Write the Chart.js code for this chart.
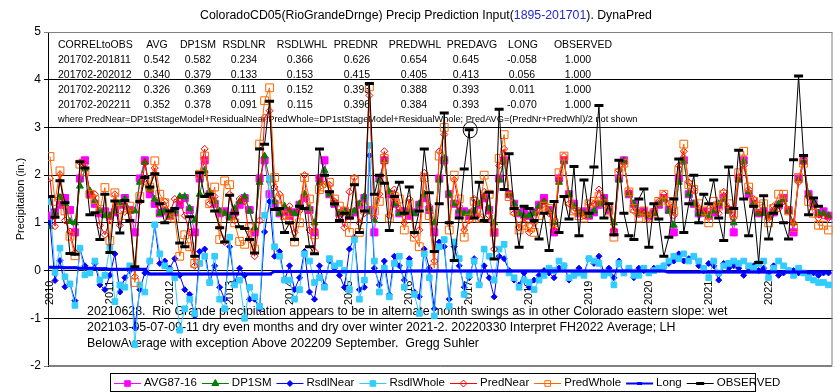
<!DOCTYPE html>
<html>
<head>
<meta charset="utf-8">
<script src="https://cdn.jsdelivr.net/npm/chart.js@4/dist/chart.umd.min.js"></script>
<style>
  html, body { margin: 0; padding: 0; background: #fff; }
  #wrap { width: 840px; height: 392px; }
</style>
</head>
<body>
<div id="wrap"><canvas id="c" width="840" height="392"></canvas></div>
<script>
'use strict';

// ---- data ----
const years = [2010, 2011, 2012, 2013, 2014, 2015, 2016, 2017, 2018, 2019, 2020, 2021, 2022];
const yTicks = [-2, -1, 0, 1, 2, 3, 4, 5];

// AVG87-16 is a monthly normal, same every year
const avgNormals = [1.15, 1.22, 1.38, 1.52, 1.27, 0.80, 1.93, 2.31, 1.60, 1.40, 1.20, 1.24];

const dp1sm = [
  0.92, 1.21, 1.53, 1.40, 1.03, 1.00, 1.77, 2.13, 1.67, 1.45, 1.25, 1.15,
  1.15, 1.25, 1.40, 1.50, 1.25, 1.25, 1.85, 2.27, 1.70, 1.50, 1.20, 1.25,
  1.15, 1.25, 1.55, 1.55, 1.30, 1.05, 1.60, 2.10, 1.65, 1.45, 1.25, 1.20,
  1.10, 1.30, 1.45, 1.55, 1.25, 0.90, 1.85, 2.40, 1.90, 1.45, 1.20, 1.35,
  1.25, 1.20, 1.40, 1.60, 1.30, 1.00, 1.85, 2.10, 1.60, 1.40, 1.20, 1.25,
  1.20, 1.25, 1.40, 1.55, 1.23, 1.05, 1.90, 2.30, 1.65, 1.40, 1.20, 1.20,
  1.25, 1.20, 1.40, 1.60, 1.30, 1.00, 1.90, 2.35, 1.60, 1.40, 1.25, 1.20,
  1.20, 1.25, 1.40, 1.55, 1.30, 1.00, 1.90, 2.30, 1.60, 1.40, 1.20, 1.15,
  1.15, 1.20, 1.35, 1.45, 1.25, 1.00, 1.85, 2.30, 1.60, 1.35, 1.20, 1.20,
  1.15, 1.25, 1.40, 1.50, 1.30, 1.00, 1.90, 2.30, 1.60, 1.40, 1.20, 1.20,
  1.15, 1.20, 1.40, 1.50, 1.25, 0.95, 1.85, 2.30, 1.60, 1.40, 1.20, 1.20,
  1.15, 1.25, 1.40, 1.50, 1.25, 1.00, 1.90, 2.30, 1.65, 1.40, 1.20, 1.20,
  1.15, 1.25, 1.40, 1.50, 1.25, 1.00, 1.90, 2.30, 1.60, 1.40, 1.20, 1.20,
  1.15
];

const rsdlNear = [
  1.00, -0.21, 0.21, -0.34, -0.28, -0.63, 0.45, 0.10, -0.05, 0.15, -0.30, -0.40,
  -0.10, 0.35, -0.45, -0.15, 0.00, -1.20, -0.40, -0.05, 0.20, 0.95, 0.15, 0.20,
  0.05, 0.25, -0.10, -0.40, -0.50, -0.95, 0.40, 0.45, -0.25, 0.10, -0.35, -0.60,
  0.50, -0.25, 0.05, -0.10, -0.60, -0.60, -0.80, 0.81, 1.45, 0.30, 0.40, -0.20,
  0.10, -0.40, -0.15, 0.40, -0.45, -0.60, 0.10, -0.30, 0.20, 0.05, -0.10, -0.35,
  0.45, 0.70, -0.40, -0.35, 2.41, 0.05, -0.30, 0.20, -0.50, 0.30, 0.10, -0.20,
  0.25, -0.45, -0.55, 0.45, 0.05, -0.80, 0.60, 0.50, -0.60, 0.50, 0.10, -0.35,
  -0.15, 0.25, -0.30, 0.10, -0.15, -0.55, 0.30, 0.25, 0.00, -0.20, -0.30, -0.05,
  -0.35, -0.20, -0.10, 0.00, -0.05, -0.15, 0.05, 0.10, -0.20, -0.10, 0.05, -0.05,
  0.25, 0.15, 0.30, -0.05, 0.05, -0.15, 0.20, -0.05, 0.05, -0.15, 0.05, 0.00,
  -0.05, 0.05, 0.05, 0.10, 0.15, 0.20, 0.35, 0.20, 0.25, 0.30, 0.10, 0.00,
  0.15, 0.10, -0.20, 0.15, 0.05, 0.10, 0.05, -0.10, 0.05, 0.10, 0.00, 0.05,
  -0.05, 0.10, -0.10, -0.05, 0.00, 0.00, -0.05, -0.05, -0.05, -0.05, -0.10, -0.05,
  -0.05
];

const rsdlWhole = [
  1.44, -0.04, 0.47, -0.13, -0.28, -0.73, 0.47, -0.09, -0.05, 0.20, -0.20, -0.10,
  0.48, -0.65, -0.30, -0.35, 0.10, -1.55, -0.30, -0.45, 0.20, 0.96, 0.35, 0.10,
  0.00, -0.15, -1.25, -0.80, -0.60, -0.90, 0.15, 0.30, -0.25, 0.30, -0.60, -0.80,
  0.70, -0.30, -0.20, -1.00, -0.35, -0.55, -0.75, 1.16, 1.93, 0.50, 0.30, -0.20,
  -0.20, -0.60, -0.40, 0.35, 0.20, -0.25, -0.15, -0.35, 0.25, 0.10, 0.15, 0.00,
  -0.40, 0.65, -0.60, -0.20, 2.62, 0.20, -0.45, 0.05, -0.55, 0.15, 0.30, -0.35,
  0.15, -0.50, -0.90, 0.35, -0.15, -0.95, 0.50, 0.65, -0.75, 0.60, 0.25, -0.50,
  -0.10, 0.20, -0.30, 0.45, 0.30, -0.20, 0.45, 0.55, -0.05, -0.15, -0.35, -0.20,
  -0.25, -0.40, -0.20, -0.10, 0.05, 0.00, 0.20, 0.10, -0.15, -0.10, -0.05, -0.10,
  0.25, 0.20, 0.15, -0.10, -0.05, -0.30, 0.15, -0.05, 0.05, -0.10, -0.10, 0.05,
  -0.05, 0.00, 0.05, 0.10, 0.20, 0.30, 0.25, 0.35, 0.20, 0.30, 0.20, 0.05,
  -0.15, 0.20, -0.05, 0.10, 0.15, 0.20, 0.15, 0.20, 0.10, 0.05, 0.15, 0.20,
  -0.15, 0.05, 0.20, 0.10, 0.00, -0.10, 0.05, -0.05, -0.15, -0.20, -0.25, -0.25,
  -0.30
];

const predNear = [
  1.93, 0.93, 2.02, 1.05, 0.82, 0.38, 2.27, 2.23, 1.60, 1.60, 0.95, 0.75,
  1.05, 1.60, 0.95, 1.35, 1.25, -0.13, 1.45, 2.25, 1.70, 2.15, 1.35, 1.45,
  1.20, 1.50, 1.45, 1.15, 0.80, 0.10, 2.00, 2.55, 1.40, 1.55, 0.90, 0.60,
  1.60, 1.05, 1.50, 1.45, 0.65, 0.30, 1.05, 3.21, 3.35, 1.75, 1.60, 1.15,
  1.35, 0.80, 1.25, 2.00, 0.85, 0.40, 1.95, 1.80, 1.80, 1.45, 1.10, 0.90,
  1.65, 1.95, 1.00, 1.20, 3.67, 1.10, 1.60, 2.50, 1.15, 1.70, 1.30, 1.00,
  1.50, 0.75, 0.85, 2.05, 1.35, 0.20, 2.50, 2.85, 1.00, 1.90, 1.35, 0.85,
  1.05, 1.50, 1.10, 1.65, 1.15, 0.45, 2.20, 2.55, 1.60, 1.20, 0.90, 1.10,
  0.80, 1.00, 1.25, 1.45, 1.20, 0.85, 1.90, 2.40, 1.40, 1.25, 1.25, 1.15,
  1.40, 1.40, 1.70, 1.45, 1.35, 0.85, 2.10, 2.25, 1.65, 1.25, 1.25, 1.20,
  1.10, 1.25, 1.45, 1.60, 1.40, 1.15, 2.20, 2.50, 1.85, 1.70, 1.30, 1.20,
  1.30, 1.35, 1.20, 1.65, 1.30, 1.10, 1.95, 2.20, 1.70, 1.50, 1.20, 1.25,
  1.10, 1.35, 1.30, 1.45, 1.25, 1.00, 1.85, 2.25, 1.55, 1.35, 1.10, 1.15,
  1.10
];

const predWhole = [
  2.39, 1.45, 2.09, 1.25, 0.72, 0.31, 2.23, 2.07, 1.60, 1.49, 1.28, 1.74,
  0.63, 1.63, 1.28, 1.15, 1.35, -0.25, 1.55, 1.88, 1.75, 2.30, 1.60, 1.42,
  1.15, 1.10, 0.30, 0.75, 0.50, 0.15, 2.02, 2.40, 1.40, 1.75, 0.65, 1.88,
  1.80, 1.00, 0.61, 0.55, 0.90, 0.45, 2.65, 3.56, 3.83, 1.95, 1.50, 1.15,
  1.05, 0.60, 1.00, 1.95, 1.50, 0.75, 1.70, 1.75, 1.85, 1.50, 1.35, 1.25,
  0.80, 1.90, 0.80, 1.35, 3.85, 1.25, 1.45, 2.35, 1.10, 1.55, 1.50, 0.85,
  1.40, 0.70, 0.50, 1.95, 1.15, 0.05, 2.40, 3.00, 0.85, 2.00, 1.50, 0.70,
  1.10, 1.45, 1.10, 2.00, 1.60, 0.80, 2.35, 2.85, 1.55, 1.25, 0.85, 0.95,
  0.90, 0.80, 1.15, 1.35, 1.30, 1.00, 2.05, 2.40, 1.45, 1.25, 1.15, 1.10,
  1.40, 1.45, 1.55, 1.40, 1.25, 0.70, 2.05, 2.25, 1.65, 1.30, 1.10, 1.25,
  1.10, 1.20, 1.45, 1.60, 1.45, 1.25, 2.10, 2.65, 1.80, 1.70, 1.40, 1.25,
  1.00, 1.45, 1.35, 1.60, 1.40, 1.20, 2.05, 2.50, 1.75, 1.45, 1.35, 1.40,
  1.00, 1.30, 1.60, 1.60, 1.25, 0.90, 1.95, 2.25, 1.45, 1.20, 0.95, 0.95,
  0.85
];

const longTerm = [
  0.07, 0.07, 0.07, 0.06, 0.06, 0.06, 0.05, 0.05, 0.05, 0.04, 0.04, 0.04,
  0.03, 0.03, 0.03, 0.03, 0.03, 0.03, 0.03, 0.03, -0.07, -0.07, -0.07, -0.07,
  -0.07, -0.07, -0.07, -0.07, -0.07, -0.07, -0.07, -0.07, -0.07, -0.07, -0.07, -0.07,
  -0.07, -0.07, -0.07, -0.07, -0.07, -0.07, -0.07, -0.07, -0.07, -0.02, -0.02, -0.02,
  -0.02, -0.02, -0.02, -0.02, -0.02, -0.02, -0.02, -0.02, -0.02, -0.02, -0.02, -0.02,
  -0.02, -0.02, -0.02, -0.02, -0.02, -0.02, -0.02, -0.02, -0.02, -0.02, -0.02, -0.02,
  -0.01, -0.01, -0.01, -0.01, -0.01, -0.01, -0.01, -0.01, -0.01, -0.01, -0.01, -0.01,
  -0.01, -0.01, -0.01, -0.01, -0.01, -0.01, -0.01, -0.01, -0.01, -0.01, -0.01, -0.01,
  -0.01, -0.01, -0.01, -0.01, -0.01, -0.01, -0.01, -0.01, -0.01, -0.01, -0.01, -0.01,
  -0.01, -0.01, -0.01, -0.01, -0.01, -0.01, -0.01, -0.01, -0.01, -0.01, -0.01, -0.01,
  -0.01, -0.01, -0.01, -0.01, -0.03, -0.03, -0.03, -0.03, -0.03, -0.03, -0.03, -0.03,
  -0.03, -0.03, -0.03, -0.03, -0.03, -0.03, -0.03, -0.03, -0.03, -0.03, -0.03, -0.03,
  -0.03, -0.03, -0.03, -0.03, -0.03, -0.03, -0.03, -0.03, -0.03, -0.03, -0.03, -0.03,
  -0.03
];

const observed = [
  1.55, 1.12, 1.88, 1.42, 0.36, 0.34, 2.28, 2.15, 1.17, 1.21, 0.65, 1.60,
  0.38, 1.46, 0.79, 1.47, 1.05, 0.08, 1.45, 1.95, 1.75, 2.03, 1.40, 1.00,
  1.25, 1.30, 0.58, 0.50, 1.13, 0.30, 2.05, 1.55, 1.60, 1.25, 0.90, 0.60,
  1.58, 1.20, 0.92, 0.88, 0.65, 0.37, 2.55, 2.65, 3.55, 1.28, 1.30, 0.80,
  1.00, 0.65, 1.35, 1.30, 0.50, 0.35, 2.55, 2.00, 1.65, 1.40, 1.05, 1.20,
  1.10, 1.80, 0.80, 1.25, 3.92, 1.60, 2.00, 1.83, 0.84, 1.55, 1.85, 1.20,
  1.75, 0.80, 1.25, 2.55, 1.63, 0.40, 1.40, 3.30, 1.00, 0.21, 1.10, 2.13,
  2.95, 1.10, 1.85, 1.05, 1.64, 0.24, 3.38, 1.70, 2.45, 1.30, 0.49, 1.35,
  1.30, 1.05, 0.66, 1.20, 0.42, 1.45, 0.80, 1.55, 1.08, 2.18, 0.73, 1.90,
  1.20, 2.17, 3.46, 1.10, 1.40, 0.75, 2.31, 1.20, 0.73, 0.65, 1.50, 1.71,
  0.49, 1.40, 1.08, 0.30, 0.70, 1.50, 2.34, 0.80, 1.40, 2.00, 1.00, 1.60,
  1.40, 1.90, 1.10, 0.63, 2.17, 1.30, 2.52, 1.50, 0.73, 1.35, 0.17, 1.57,
  0.66, 1.20, 1.36, 1.00, 0.66, 2.32, 4.08, 2.41, 1.17, 1.52, 1.35, null,
  null
];

// correlation table printed inside the plot
const tableHead = ['CORRELtoOBS', 'AVG', 'DP1SM', 'RSDLNR', 'RSDLWHL', 'PREDNR', 'PREDWHL', 'PREDAVG', 'LONG', 'OBSERVED'];
const tablePeriods = ['201702-201811', '201702-202012', '201702-202112', '201702-202211'];
const corr201811 = ['0.542', '0.582', '0.234', '0.366', '0.626', '0.654', '0.645', '-0.058', '1.000'];
const corr202012 = ['0.340', '0.379', '0.133', '0.153', '0.415', '0.405', '0.413', '0.056', '1.000'];
const corr202112 = ['0.326', '0.369', '0.111', '0.152', '0.393', '0.388', '0.393', '0.011', '1.000'];
const corr202211 = ['0.352', '0.378', '0.091', '0.115', '0.396', '0.384', '0.393', '-0.070', '1.000'];

const footNote = 'where PredNear=DP1stStageModel+ResidualNear;PredWhole=DP1stStageModel+ResidualWhole; PredAVG=(PredNr+PredWhl)/2 not shown';
const noteLines = [
  '20210628.  Rio Grande precipitation appears to be in alternate month swings as in other Colorado eastern slope: wet',
  '202103-05-07-09-11 dry even months and dry over winter 2021-2. 20220330 Interpret FH2022 Average; LH',
  'BelowAverage with exception Above 202209 September.  Gregg Suhler'
];

// ---- build ----
const nMonths = dp1sm.length;
const avgSeries = dp1sm.map((_, i) => avgNormals[i % 12]);
const toXY = arr => arr.map((v, i) => ({x: i, y: v}));
const FONT = '"Liberation Sans", Arial, sans-serif';

function drawMarker(ctx, style, x, y, r, stroke, fill, lw) {
  ctx.save();
  ctx.lineWidth = lw;
  ctx.strokeStyle = stroke;
  ctx.fillStyle = fill;
  ctx.beginPath();
  if (style === 'rect') {
    ctx.rect(x - r * 0.7, y - r * 0.7, r * 1.4, r * 1.4);
  } else if (style === 'rectRot') {
    ctx.moveTo(x, y - r); ctx.lineTo(x + r, y); ctx.lineTo(x, y + r); ctx.lineTo(x - r, y); ctx.closePath();
  } else if (style === 'triangle') {
    ctx.moveTo(x, y - r); ctx.lineTo(x + r * 0.87, y + r * 0.5); ctx.lineTo(x - r * 0.87, y + r * 0.5); ctx.closePath();
  } else if (style === 'line') {
    ctx.moveTo(x - r, y); ctx.lineTo(x + r, y);
  }
  if (style !== 'line') ctx.fill();
  ctx.stroke();
  ctx.restore();
}

const series = [
  {label: 'AVG87-16', data: avgSeries, color: '#FF00FF', style: 'rect', r: 5, fill: '#FF00FF', lw: 1, order: 8},
  {label: 'DP1SM', data: dp1sm, color: '#008000', style: 'triangle', r: 4, fill: '#008000', lw: 1, order: 7},
  {label: 'RsdlNear', data: rsdlNear, color: '#0000FF', style: 'rectRot', r: 3, fill: '#0000FF', lw: 1, order: 6},
  {label: 'RsdlWhole', data: rsdlWhole, color: '#33CCFF', style: 'rect', r: 4, fill: '#33CCFF', lw: 1, order: 5},
  {label: 'PredNear', data: predNear, color: '#FF0000', style: 'rectRot', r: 3.5, fill: 'rgba(255,255,255,0)', lw: 1, order: 4},
  {label: 'PredWhole', data: predWhole, color: '#FF6600', style: 'rect', r: 5.5, fill: 'rgba(255,255,255,0)', lw: 1, order: 3},
  {label: 'Long', data: longTerm, color: '#0000FF', style: 'line', r: 2.5, fill: '#0000FF', lw: 2.5, order: 2},
  {label: 'OBSERVED', data: observed, color: '#000000', style: 'line', r: 4.5, fill: '#000000', lw: 1, order: 1}
];

const datasets = series.map(s => ({
  label: s.label,
  data: toXY(s.data),
  borderColor: s.color,
  backgroundColor: s.fill,
  borderWidth: s.lw,
  pointStyle: s.style,
  pointRadius: s.r,
  pointBorderColor: s.color,
  pointBackgroundColor: s.fill,
  pointBorderWidth: s.style === 'line' ? 3 : 1,
  tension: 0,
  spanGaps: false,
  order: s.order
}));

function fitFont(ctx, text, width, base) {
  ctx.font = base + 'px ' + FONT;
  return base * width / ctx.measureText(text).width;
}

const decor = {
  id: 'decor',
  beforeDraw(chart) {
    const ctx = chart.ctx;
    ctx.save();
    ctx.fillStyle = '#fff';
    ctx.fillRect(0, 0, chart.width, chart.height);
    ctx.restore();
  },
  beforeDatasetsDraw(chart) {
    const {ctx, chartArea: a, scales: {x, y}} = chart;
    ctx.save();
    // plot frame (top, right, bottom) in grey
    ctx.strokeStyle = '#808080';
    ctx.lineWidth = 1;
    ctx.beginPath();
    ctx.moveTo(a.left, a.top + 0.5);
    ctx.lineTo(a.right - 0.5, a.top + 0.5);
    ctx.lineTo(a.right - 0.5, a.bottom - 0.5);
    ctx.lineTo(a.left, a.bottom - 0.5);
    ctx.stroke();

    // correlation table
    ctx.fillStyle = '#000';
    ctx.textBaseline = 'middle';
    ctx.font = '10.5px ' + FONT;
    const headCenters = [157, 198, 244, 302, 356, 415, 472, 523, 583];
    const valCenters = [157, 198, 244, 300, 357, 414, 466, 522, 578];
    ctx.textAlign = 'left';
    ctx.fillText(tableHead[0], 58, 45);
    ctx.textAlign = 'center';
    tableHead.slice(1).forEach((h, k) => ctx.fillText(h, headCenters[k], 45));
    [corr201811, corr202012, corr202112, corr202211].forEach((row, r) => {
      const yy = 60 + r * 15;
      ctx.textAlign = 'left';
      ctx.fillText(tablePeriods[r], 58, yy);
      ctx.textAlign = 'center';
      row.forEach((v, k) => ctx.fillText(v, valCenters[k], yy));
    });
    const fs = fitFont(ctx, footNote, 580, 10);
    ctx.font = fs.toFixed(2) + 'px ' + FONT;
    ctx.textAlign = 'left';
    ctx.fillText(footNote, 58, 119);

    // note text box near the bottom
    const ns = fitFont(ctx, noteLines[0], 641, 12);
    ctx.font = ns.toFixed(2) + 'px ' + FONT;
    noteLines.forEach((t, k) => ctx.fillText(t, 87, 312 + k * 16));

    // year labels sit on the zero line, rotated
    ctx.font = '11px ' + FONT;
    const y0 = y.getPixelForValue(0);
    years.forEach((yr, k) => {
      const px = x.getPixelForValue(k * 12);
      ctx.save();
      ctx.translate(px, y0 + 10);
      ctx.rotate(-Math.PI / 2);
      ctx.textAlign = 'right';
      ctx.fillText(String(yr), 0, 0);
      ctx.restore();
    });
    ctx.restore();
  },
  afterDraw(chart) {
    const {ctx, chartArea: a, scales: {x, y}} = chart;
    ctx.save();
    // title, with the base period in blue
    const parts = [['ColoradoCD05(RioGrandeDrnge) Precip Prediction Input(', '#000'], ['1895-201701', '#2626CC'], ['). DynaPred', '#000']];
    const full = parts.map(p => p[0]).join('');
    const ts = fitFont(ctx, full, 452, 12);
    ctx.font = ts.toFixed(2) + 'px ' + FONT;
    ctx.textBaseline = 'middle';
    ctx.textAlign = 'left';
    let tx = 426 - ctx.measureText(full).width / 2;
    parts.forEach(([t, c]) => {
      ctx.fillStyle = c;
      ctx.fillText(t, tx, 16);
      tx += ctx.measureText(t).width;
    });

    // y axis title
    ctx.fillStyle = '#000';
    ctx.font = '11px ' + FONT;
    ctx.save();
    ctx.translate(21, (a.top + a.bottom) / 2);
    ctx.rotate(-Math.PI / 2);
    ctx.textAlign = 'center';
    ctx.fillText('Precipitation (in.)', 0, 0);
    ctx.restore();

    // hand drawn ellipse annotation
    ctx.strokeStyle = '#000';
    ctx.lineWidth = 1;
    ctx.beginPath();
    ctx.ellipse(x.getPixelForValue(84.2), y.getPixelForValue(2.95), 7, 8, 0, 0, Math.PI * 2);
    ctx.stroke();

    // legend
    const lx0 = 110, ly0 = 373, lx1 = 755, ly1 = 391;
    ctx.fillStyle = '#fff';
    ctx.fillRect(lx0, ly0, lx1 - lx0, ly1 - ly0);
    ctx.strokeStyle = '#000';
    ctx.strokeRect(lx0 + 0.5, ly0 + 0.5, lx1 - lx0, ly1 - ly0);
    ctx.font = '11.5px ' + FONT;
    ctx.textBaseline = 'middle';
    ctx.textAlign = 'left';
    let lx = 114;
    const ly = (ly0 + ly1) / 2 + 1;
    series.forEach(s => {
      ctx.strokeStyle = s.color;
      ctx.lineWidth = s.label === 'Long' ? 2 : 1;
      ctx.beginPath();
      ctx.moveTo(lx, ly + 0.5);
      ctx.lineTo(lx + 27, ly + 0.5);
      ctx.stroke();
      drawMarker(ctx, s.style, lx + 13.5, ly + 0.5, Math.min(s.r, 4), s.color, s.fill, s.style === 'line' ? 3 : 1);
      ctx.fillStyle = '#000';
      ctx.fillText(s.label, lx + 30, ly);
      lx += 30 + ctx.measureText(s.label).width + 5;
    });
    ctx.restore();
  }
};

new Chart(document.getElementById('c'), {
  type: 'line',
  data: {datasets: datasets},
  options: {
    responsive: false,
    animation: false,
    devicePixelRatio: 1,
    layout: {padding: {top: 32, right: 5, bottom: 26, left: 0}},
    plugins: {legend: {display: false}, tooltip: {enabled: false}},
    elements: {line: {borderJoinStyle: 'miter'}},
    scales: {
      x: {
        type: 'linear',
        display: false,
        min: -0.4,
        max: nMonths - 0.2
      },
      y: {
        min: yTicks[0],
        max: yTicks[yTicks.length - 1],
        afterFit(scale) { scale.width = 48; },
        afterBuildTicks(scale) { scale.ticks = yTicks.map(v => ({value: v})); },
        ticks: {color: '#000', font: {size: 12, family: FONT}, padding: 3},
        grid: {
          color: c => (c.tick && (c.tick.value === 5 || c.tick.value === -2)) ? '#808080' : '#000',
          lineWidth: 1,
          tickLength: 4,
          drawOnChartArea: true
        },
        border: {color: '#000', width: 1}
      }
    }
  },
  plugins: [decor]
});
</script>
</body>
</html>
